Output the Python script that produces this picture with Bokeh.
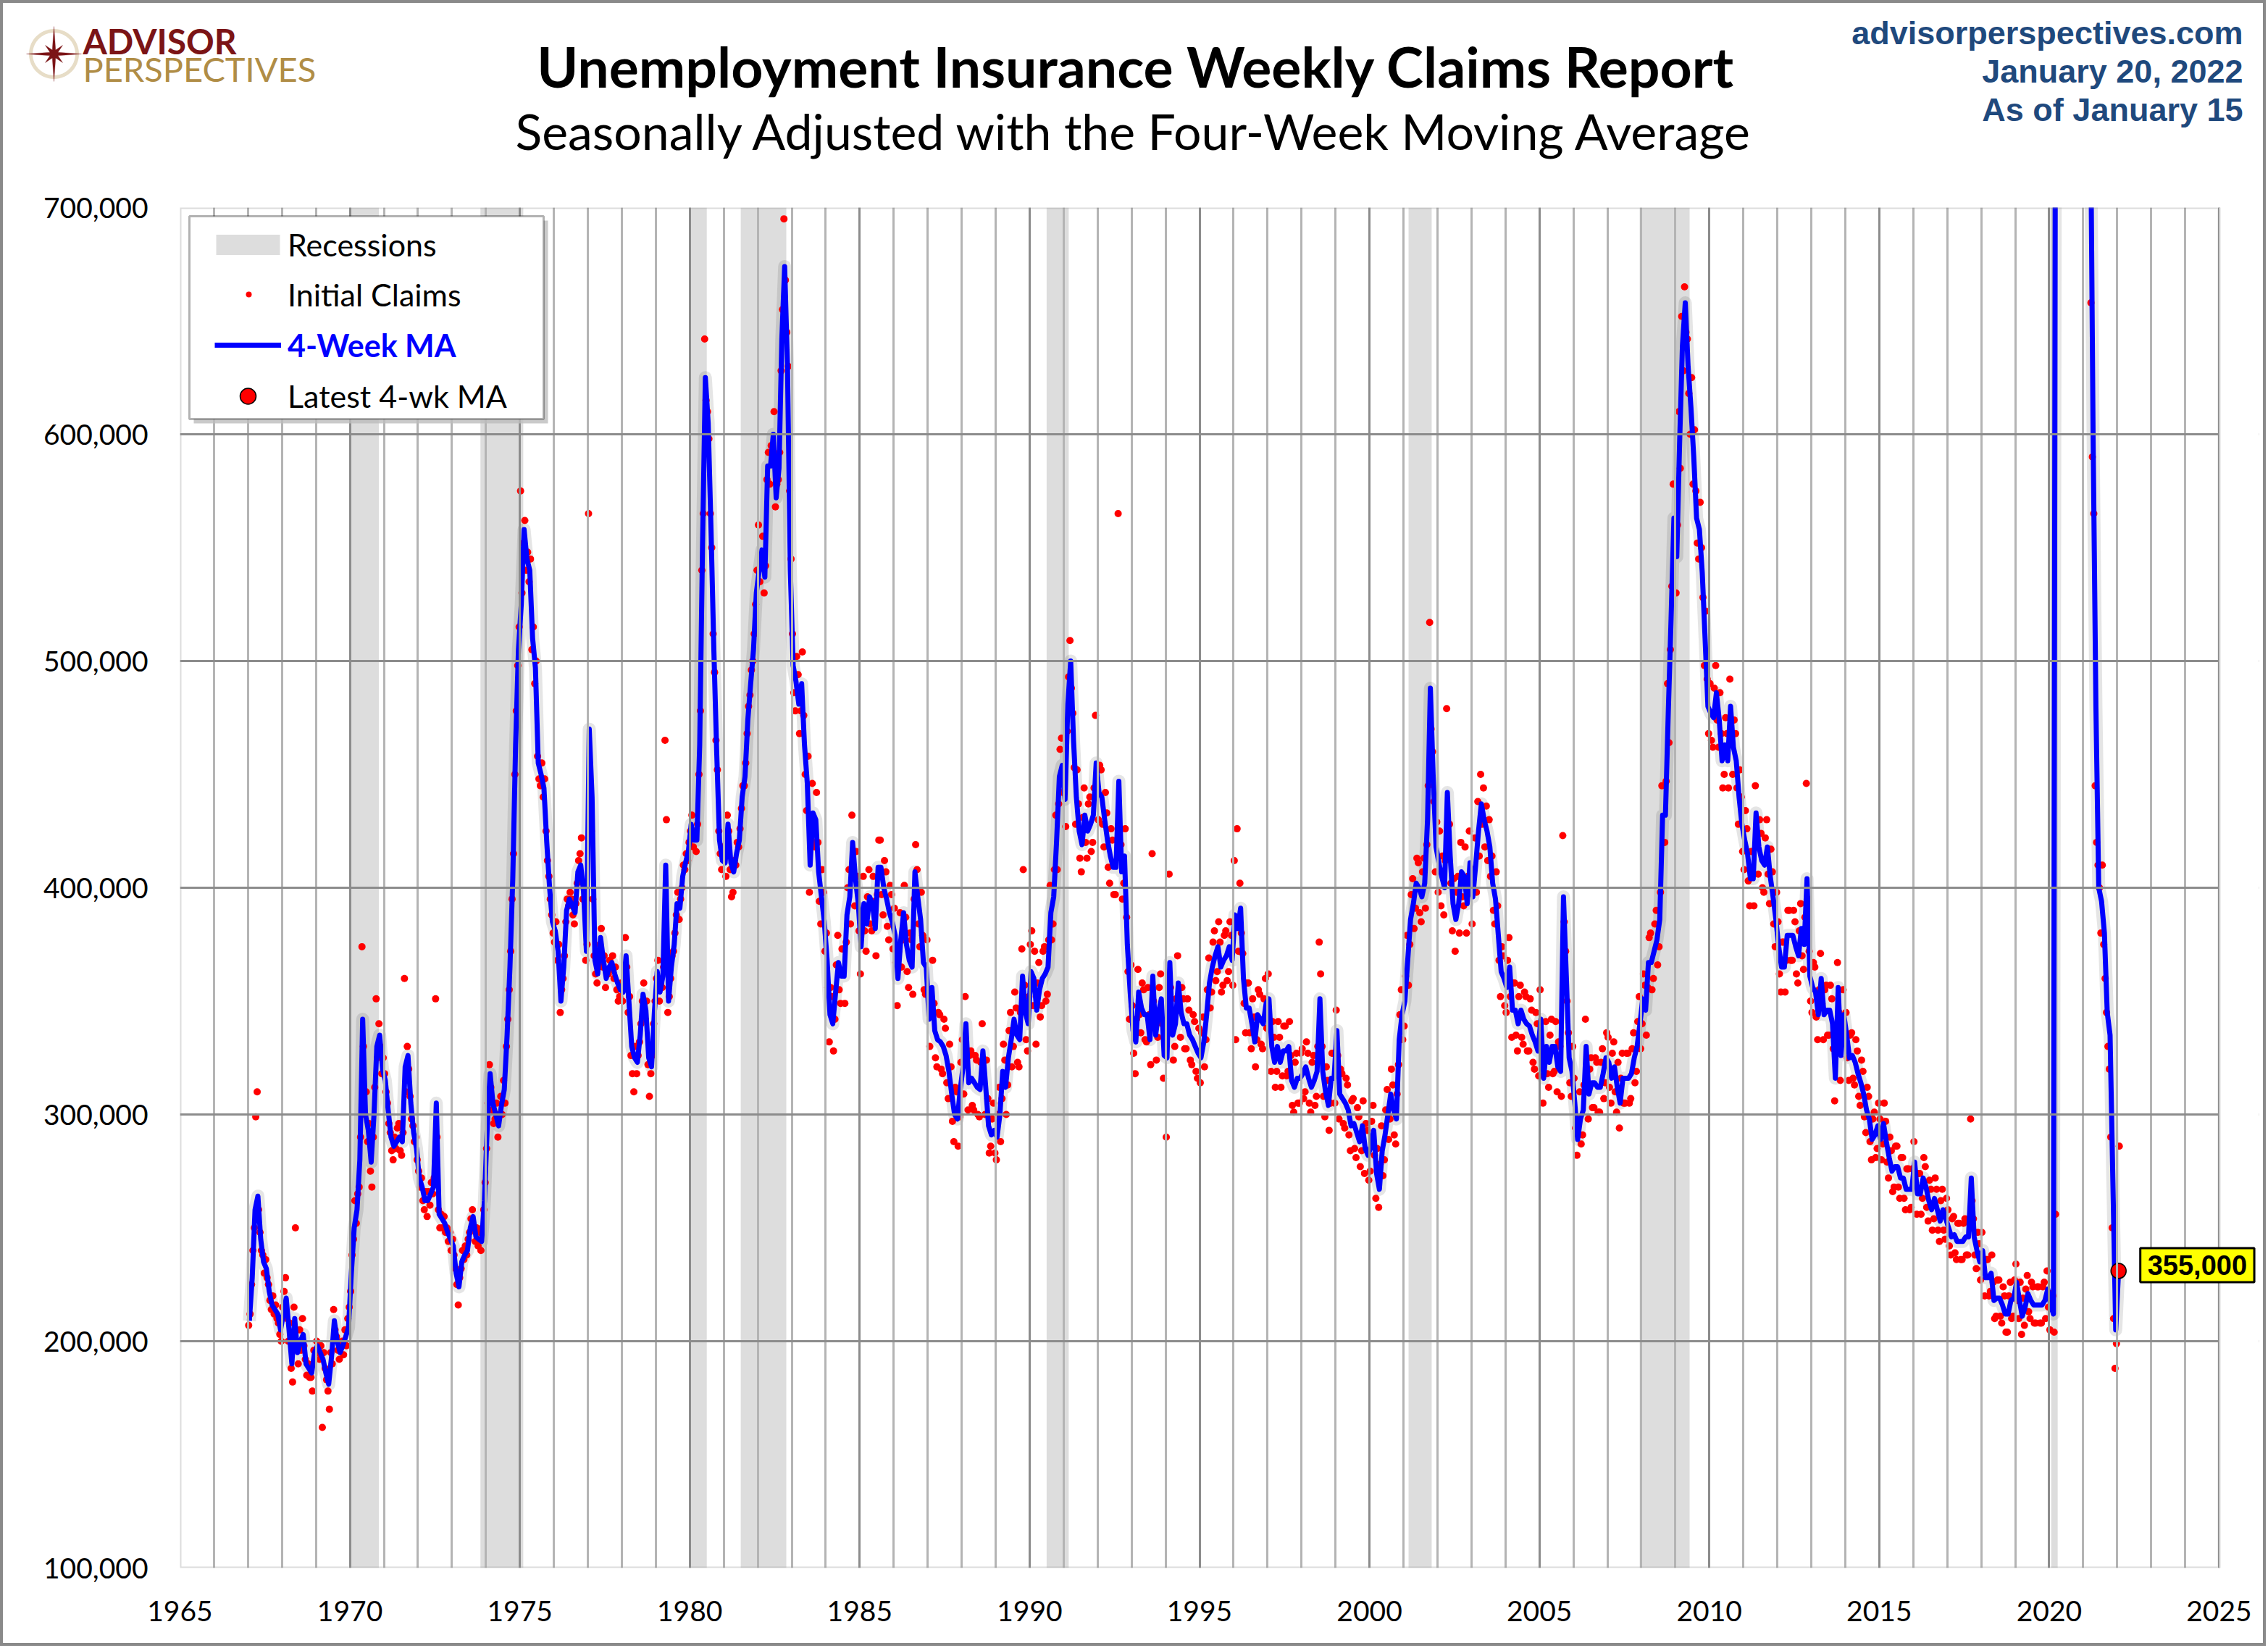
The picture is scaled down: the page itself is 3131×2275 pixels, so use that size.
import math
from bokeh.plotting import figure
from bokeh.layouts import column
from bokeh.models import (Range1d, FixedTicker, NumeralTickFormatter, Label, Legend,
                          LegendItem, BoxAnnotation, PolyAnnotation)
from bokeh.embed import file_html
from bokeh.resources import INLINE

# ---------------- DATA (thousands of claims) ----------------
# Four-week moving average, one value per month (mid-month), by decade
ma_1967_1979 = [
    209, 228, 258, 264, 245, 235, 232, 222, 216, 214, 212, 205,
    212, 219, 205, 190, 210, 195, 200, 203, 190, 188, 186, 195,
    198, 195, 192, 186, 181, 193, 209, 200, 195, 198, 202, 206,
    230, 250, 258, 280, 342, 300, 293, 279, 300, 330, 335, 320,
    315, 302, 290, 286, 288, 290, 288, 321, 326, 305, 292, 285,
    272, 268, 262, 262, 265, 268, 305, 256, 254, 252, 248, 245,
    242, 230, 224, 235, 238, 240, 250, 255, 246, 245, 244, 262,
    295, 318, 305, 300, 295, 304, 311, 335, 365, 404, 463, 505,
    525, 558, 545, 540, 510, 497, 455, 450, 444, 420, 400, 385,
    381, 372, 350, 365, 390, 395, 392, 389, 407, 410, 398, 372,
    470, 440, 368, 362, 378, 368, 360, 365, 367, 362, 358, 355,
    354, 370, 350, 330, 325, 323, 335, 353, 346, 325, 321, 345,
    363, 354, 361, 410, 350, 365, 375, 393, 391, 405, 411, 416]
ma_1980s = [
    428, 421, 421, 463, 551, 625, 605, 558, 505, 460, 421, 412,
    411, 428, 411, 407, 415, 421, 440, 449, 474, 490, 505, 530,
    540, 549, 537, 586, 586, 600, 572, 585, 642, 674, 630, 540,
    498, 491, 481, 490, 463, 446, 410, 433, 430, 407, 396, 385,
    368, 344, 340, 354, 367, 361, 361, 388, 396, 420, 404, 393,
    374, 393, 384, 396, 393, 382, 409, 409, 400, 395, 389, 385,
    379, 360, 377, 389, 375, 368, 365, 407, 396, 386, 367, 365,
    342, 356, 337, 333, 332, 330, 326, 319, 309, 300, 298, 311,
    321, 340, 314, 316, 314, 312, 311, 328, 312, 295, 291, 293,
    290, 300, 319, 312, 325, 333, 342, 335, 333, 361, 345, 340]
ma_1990s = [
    363, 360, 346, 355, 360, 362, 365, 389, 396, 420, 449, 454,
    439, 481, 500, 465, 440, 425, 419, 432, 425, 428, 432, 455,
    442, 440, 430, 421, 414, 409, 409, 447, 407, 414, 375, 354,
    337, 332, 354, 347, 344, 344, 333, 361, 335, 345, 351, 326,
    325, 367, 335, 340, 358, 345, 340, 340, 335, 333, 330, 327,
    325, 332, 344, 358, 365, 370, 374, 365, 368, 370, 374, 368,
    388, 382, 391, 360, 347, 347, 340, 332, 344, 342, 340, 349,
    351, 330, 323, 330, 323, 328, 328, 330, 315, 312, 316, 316,
    318, 321, 316, 312, 315, 319, 351, 319, 310, 304, 316, 316,
    337, 309, 307, 305, 302, 295, 296, 292, 288, 295, 285, 282]
ma_2000s = [
    286, 293, 274, 267, 284, 291, 300, 309, 302, 298, 333, 344,
    350, 368, 386, 393, 402, 400, 396, 402, 430, 488, 449, 418,
    411, 405, 400, 442, 414, 393, 386, 393, 407, 405, 393, 411,
    396, 410, 425, 437, 430, 425, 418, 402, 395, 379, 363, 360,
    356, 365, 346, 346, 340, 346, 342, 340, 339, 335, 332, 328,
    342, 316, 330, 323, 330, 330, 321, 319, 396, 361, 325, 319,
    305, 289, 298, 302, 330, 309, 314, 314, 312, 312, 318, 325,
    323, 316, 321, 312, 305, 316, 316, 316, 318, 325, 330, 340,
    351, 346, 367, 367, 372, 377, 386, 432, 432, 477, 519, 563,
    546, 596, 639, 658, 630, 612, 590, 563, 558, 539, 510, 480]
ma_2010s = [
    477, 475, 486, 474, 456, 463, 456, 480, 462, 456, 440, 428,
    421, 415, 404, 404, 433, 418, 412, 410, 418, 405, 396, 386,
    374, 365, 365, 379, 379, 379, 374, 370, 382, 375, 404, 361,
    356, 354, 344, 360, 344, 346, 346, 340, 316, 356, 326, 344,
    335, 325, 326, 323, 318, 314, 309, 302, 298, 289, 291, 295,
    289, 296, 288, 281, 275, 277, 277, 272, 272, 267, 267, 267,
    279, 265, 265, 272, 268, 262, 258, 263, 258, 253, 258, 254,
    250, 246, 247, 244, 244, 244, 246, 246, 272, 246, 240, 235,
    240, 228, 228, 230, 218, 219, 219, 216, 212, 212, 218, 219,
    226, 218, 211, 215, 221, 218, 216, 216, 216, 216, 218, 223]
ma_2020s = [
    216, 212, 1000, 5000, 3000, 1600, 1400, 1100, 880, 790, 740, 820,
    850, 800, 760, 600, 480, 400, 394, 380, 345, 335, 270, 205,
    231]

# Weekly initial claims, two readings per month, by decade
ic_1967_1979 = [
    207, 212, 225, 240, 250, 299, 310, 258, 248, 240, 238, 230, 236, 228, 225, 218, 214, 220, 212, 216, 210, 208, 203, 200,
    215, 222, 228, 210, 200, 208, 188, 182, 215, 250, 198, 190, 205, 196, 210, 198, 192, 185, 190, 184, 184, 178, 196, 192,
    200, 195, 192, 198, 162, 195, 188, 183, 178, 170, 195, 190, 214, 205, 202, 196, 192, 198, 200, 194, 205, 198, 210, 215,
    222, 238, 245, 262, 252, 265, 268, 290, 374, 330, 300, 310, 288, 296, 275, 268, 290, 312, 351, 325, 340, 330, 318, 325,
    318, 310, 305, 296, 292, 284, 280, 290, 285, 294, 296, 284, 282, 292, 360, 310, 330, 320, 308, 298, 295, 288, 290, 280,
    275, 268, 272, 262, 258, 266, 255, 266, 260, 270, 265, 272, 351, 290, 258, 250, 256, 250, 255, 248, 250, 244, 248, 240,
    245, 238, 232, 225, 216, 228, 232, 240, 236, 242, 238, 245, 248, 254, 258, 250, 244, 250, 242, 248, 240, 250, 258, 270,
    285, 305, 322, 312, 302, 296, 298, 305, 290, 300, 308, 300, 315, 305, 330, 342, 355, 372, 395, 415, 450, 478, 498, 515,
    575, 530, 552, 562, 540, 548, 535, 545, 505, 515, 490, 500, 458, 448, 445, 455, 440, 448, 425, 412, 405, 395, 388, 380,
    376, 385, 368, 375, 345, 355, 360, 370, 385, 395, 392, 398, 395, 388, 384, 393, 402, 412, 415, 422, 395, 402, 368, 375,
    565, 440, 425, 395, 370, 362, 358, 366, 375, 382, 365, 370, 356, 362, 362, 368, 364, 370, 360, 365, 355, 350, 352, 358,
    350, 358, 378, 365, 345, 352, 326, 318, 310, 330, 318, 326, 332, 340, 350, 358, 342, 350, 322, 308, 318, 326, 340, 350,
    360, 368, 350, 358, 356, 365, 465, 430, 345, 352, 360, 370, 372, 380, 388, 398, 386, 395, 400, 410, 408, 415, 412, 420]
ic_1980s = [
    425, 432, 418, 425, 416, 428, 450, 478, 540, 565, 642, 615, 610, 598, 565, 550, 512, 495, 465, 452, 425, 415, 408, 418,
    415, 405, 432, 425, 408, 396, 398, 412, 410, 420, 418, 426, 435, 445, 445, 455, 468, 480, 485, 496, 500, 512, 525, 540,
    560, 535, 545, 555, 530, 542, 580, 592, 578, 595, 592, 610, 568, 578, 580, 592, 628, 655, 695, 668, 645, 630, 575, 545,
    512, 486, 478, 502, 494, 468, 478, 504, 476, 450, 434, 458, 398, 422, 446, 420, 418, 442, 420, 394, 384, 408, 398, 372,
    380, 356, 332, 356, 352, 328, 342, 366, 379, 355, 349, 373, 373, 349, 376, 400, 408, 384, 432, 408, 392, 416, 405, 381,
    362, 386, 405, 381, 372, 396, 408, 384, 381, 405, 394, 370, 397, 421, 421, 397, 388, 412, 407, 383, 377, 401, 397, 373,
    391, 367, 348, 372, 389, 365, 377, 401, 387, 363, 356, 380, 377, 353, 395, 419, 408, 384, 374, 398, 379, 355, 353, 377,
    354, 330, 344, 368, 349, 325, 321, 345, 344, 320, 318, 342, 338, 314, 307, 331, 321, 297, 288, 312, 310, 286, 299, 323,
    333, 309, 352, 328, 302, 326, 328, 304, 302, 326, 324, 300, 299, 323, 340, 316, 300, 324, 307, 283, 286, 298, 305, 283,
    280, 300, 312, 288, 307, 331, 324, 300, 313, 337, 345, 321, 330, 354, 347, 323, 321, 345, 373, 408, 357, 333, 328, 352]
ic_1990s = [
    375, 381, 348, 372, 331, 358, 367, 343, 348, 372, 374, 350, 353, 377, 401, 377, 384, 408, 432, 408, 437, 461, 466, 442,
    451, 427, 469, 493, 509, 488, 477, 453, 428, 452, 437, 413, 407, 431, 444, 420, 413, 437, 440, 416, 420, 444, 476, 443,
    430, 454, 452, 428, 418, 442, 433, 409, 402, 426, 421, 397, 397, 421, 565, 425, 419, 395, 402, 426, 387, 363, 342, 366,
    348, 327, 318, 342, 364, 344, 336, 358, 355, 333, 332, 356, 344, 322, 415, 350, 346, 324, 334, 356, 362, 340, 316, 337,
    290, 336, 406, 356, 346, 324, 330, 351, 370, 346, 334, 356, 351, 329, 329, 351, 346, 324, 322, 344, 341, 319, 316, 338,
    314, 336, 343, 321, 333, 355, 369, 347, 354, 376, 381, 359, 363, 385, 376, 354, 357, 379, 381, 359, 363, 385, 379, 357,
    412, 333, 426, 372, 402, 380, 371, 349, 336, 358, 358, 336, 329, 351, 343, 321, 333, 355, 353, 331, 329, 351, 360, 338,
    362, 340, 319, 341, 334, 312, 319, 341, 334, 312, 317, 339, 339, 317, 319, 341, 326, 304, 301, 323, 327, 305, 305, 327,
    329, 307, 310, 332, 327, 305, 301, 323, 326, 304, 308, 330, 376, 362, 330, 308, 299, 321, 315, 293, 305, 327, 327, 305,
    346, 326, 298, 320, 318, 296, 294, 316, 313, 291, 284, 306, 307, 285, 281, 303, 299, 277, 284, 306, 274, 296, 293, 271]
ic_2000s = [
    275, 297, 304, 282, 263, 285, 259, 278, 295, 273, 280, 302, 311, 289, 298, 320, 313, 291, 287, 309, 322, 344, 355, 333,
    339, 361, 379, 357, 375, 397, 404, 382, 391, 413, 411, 389, 385, 407, 413, 391, 419, 445, 517, 470, 460, 438, 407, 429,
    398, 425, 392, 414, 388, 412, 479, 418, 428, 402, 381, 404, 372, 398, 405, 380, 420, 396, 392, 418, 380, 405, 425, 398,
    384, 408, 422, 398, 438, 414, 450, 428, 444, 418, 436, 412, 430, 405, 414, 390, 384, 407, 392, 368, 352, 374, 370, 348,
    345, 368, 378, 352, 334, 358, 358, 335, 328, 352, 357, 334, 331, 354, 352, 328, 328, 351, 346, 323, 320, 345, 340, 317,
    355, 330, 305, 328, 341, 318, 312, 335, 342, 318, 319, 341, 310, 332, 330, 308, 423, 385, 372, 350, 336, 314, 308, 330,
    316, 294, 282, 298, 310, 287, 291, 313, 342, 320, 298, 320, 325, 303, 303, 325, 323, 301, 301, 323, 329, 307, 314, 336,
    334, 312, 305, 327, 332, 310, 301, 323, 294, 316, 327, 305, 305, 327, 327, 305, 307, 329, 336, 314, 319, 341, 352, 329,
    340, 362, 357, 335, 356, 378, 380, 355, 360, 384, 390, 366, 374, 398, 445, 420, 420, 447, 490, 464, 505, 533, 578, 550,
    530, 560, 610, 585, 652, 628, 665, 645, 642, 618, 600, 625, 578, 602, 575, 552, 545, 570, 550, 528, 498, 522, 492, 468]
ic_2010s = [
    490, 465, 462, 488, 498, 474, 462, 486, 468, 444, 450, 475, 468, 444, 492, 468, 450, 474, 468, 444, 428, 452, 440, 416,
    408, 434, 426, 403, 392, 416, 416, 392, 445, 420, 406, 430, 424, 400, 398, 422, 430, 406, 393, 417, 407, 384, 374, 398,
    385, 362, 354, 376, 376, 354, 368, 390, 390, 368, 368, 390, 385, 362, 358, 381, 393, 370, 364, 387, 446, 395, 372, 350,
    345, 367, 365, 343, 333, 355, 371, 349, 333, 355, 357, 335, 335, 357, 351, 329, 306, 327, 367, 345, 315, 337, 355, 333,
    345, 325, 315, 335, 336, 316, 313, 333, 328, 308, 304, 324, 319, 299, 292, 312, 308, 288, 280, 298, 301, 281, 285, 305,
    298, 280, 287, 305, 297, 279, 272, 290, 284, 266, 268, 286, 286, 268, 263, 281, 281, 263, 258, 276, 276, 258, 259, 276,
    288, 270, 256, 274, 274, 256, 263, 281, 277, 259, 253, 271, 267, 249, 254, 272, 267, 249, 244, 262, 267, 249, 245, 263,
    258, 242, 238, 254, 255, 239, 236, 252, 252, 236, 236, 252, 254, 238, 238, 254, 298, 262, 254, 238, 232, 248, 243, 227,
    248, 232, 220, 236, 236, 220, 222, 238, 226, 210, 211, 227, 227, 211, 208, 224, 220, 204, 204, 220, 226, 210, 211, 227,
    234, 218, 210, 226, 203, 219, 207, 223, 229, 213, 210, 226, 224, 208, 208, 224, 224, 208, 208, 224, 226, 210, 231, 215]
ic_2020s = [
    205, 221, 220, 204, 256, 3300, 6000, 4400, 2700, 2100, 1500, 1400, 1300, 1400, 1100, 1000, 870, 850, 790, 750, 740, 780, 850, 800,
    900, 850, 800, 760, 720, 658, 590, 565, 445, 420, 410, 400, 380, 410, 375, 360, 345, 330, 320, 290, 250, 210, 188, 199,
    230, 286]

# Recessions (decimal years)
rec_start = [1970.00, 1973.84, 1980.00, 1981.50, 1990.50, 2001.15, 2007.95, 2020.06]
rec_end = [1970.85, 1975.10, 1980.50, 1982.84, 1991.15, 2001.83, 2009.42, 2020.25]

latest_label = "355,000"
x_ticks = list(range(1965, 2026, 5))
x_minor = list(range(1965, 2026))
y_ticks = list(range(100000, 700001, 100000))
X_LO, X_HI = 1965, 2025
Y_LO, Y_HI = 100000, 700000

# ---------------- build series ----------------
ma_blocks = [(1967, ma_1967_1979), (1980, ma_1980s), (1990, ma_1990s),
             (2000, ma_2000s), (2010, ma_2010s), (2020, ma_2020s)]
ic_blocks = [(1967, ic_1967_1979), (1980, ic_1980s), (1990, ic_1990s),
             (2000, ic_2000s), (2010, ic_2010s), (2020, ic_2020s)]
ma_x, ma_y, ic_x, ic_y = [], [], [], []
for y0, vals in ma_blocks:
    for i, v in enumerate(vals):
        ma_x.append(y0 + (i + 0.5) / 12)
        ma_y.append(v * 1000)
for y0, vals in ic_blocks:
    for i, v in enumerate(vals):
        ic_x.append(y0 + (i + 0.5) / 24)
        ic_y.append(v * 1000)

# ---------------- layout geometry (page pixels) ----------------
W, H = 3128, 2272
HH = 248                      # header strip height
H2 = H - HH                   # main chart height
RFL, RFR, RFT, RFB = 248, 3063, 286, 2164   # plot frame (page pixels)
PX_PER_YEAR = (RFR - RFL) / (X_HI - X_LO)
FT = RFT - HH
FB = RFB - HH
FR_EXT = W - 10               # frame extended right so the callout is not clipped
X_EXT = X_LO + (FR_EXT - RFL) / PX_PER_YEAR
BC = "#8a8a8a"                # outer border colour

# ---------------- header ----------------
header = figure(width=W, height=HH, y_range=Range1d(HH, 0),
                x_axis_type=None, y_axis_type=None, toolbar_location=None,
                output_backend="svg", min_border=0, title=None)
try:
    header.frame_align = False
    hx0, hx1 = 0, W
except Exception:
    hx0, hx1 = RFL, FR_EXT
header.x_range = Range1d(hx0, hx1)
header.outline_line_color = None
header.grid.visible = False
header.background_fill_alpha = 0
header.border_fill_alpha = 0
header.styles = {"box-shadow": f"inset 4px 0 0 0 {BC}, inset -4px 0 0 0 {BC}, "
                               f"inset 0 4px 0 0 {BC}"}

BASE_SHIFT = 0.33   # Label baseline correction, in em


def htext(text, rx, ry, size, color="black", font="Lato", style="normal", align="left"):
    header.add_layout(Label(x=rx, y=ry - BASE_SHIFT * size, text=text, text_font=font,
                            text_font_size=f"{size}px", text_font_style=style,
                            text_color=color, text_align=align,
                            text_baseline="alphabetic"))


htext("Unemployment Insurance Weekly Claims Report", 1568, 116, 77, style="bold",
      align="center")
htext("Seasonally Adjusted with the Four-Week Moving Average", 1567, 202, 68,
      align="center")
htext("advisorperspectives.com", 3096, 60, 45, color="#1F497D",
      font="Liberation Sans", style="bold", align="right")
htext("January 20, 2022", 3096, 113, 45, color="#1F497D",
      font="Liberation Sans", style="bold", align="right")
htext("As of January 15", 3096, 166, 45, color="#1F497D",
      font="Liberation Sans", style="bold", align="right")
htext("ADVISOR", 114, 72, 48, color="#7B1416", style="bold")
htext("PERSPECTIVES", 114, 110, 47, color="#B08D46")

# logo mark
cx, cy = 74, 74
ring_x = [cx + 32 * math.cos(2 * math.pi * k / 60) for k in range(60)]
ring_y = [cy + 32 * math.sin(2 * math.pi * k / 60) for k in range(60)]
header.add_layout(PolyAnnotation(xs=ring_x, ys=ring_y, fill_alpha=0,
                                 line_color="#B08D46", line_width=5))
star_x, star_y = [], []
for k in range(16):
    r = 38 if k % 4 == 0 else (17 if k % 4 == 2 else 6)
    a = math.pi / 2 + k * math.pi / 8
    star_x.append(cx + r * math.cos(a))
    star_y.append(cy + r * math.sin(a))
header.add_layout(PolyAnnotation(xs=star_x, ys=star_y, fill_color="#7B1416",
                                 fill_alpha=1, line_color="#7B1416", line_width=1))

# ---------------- main chart ----------------
p = figure(width=W, height=H2, title=None, output_backend="svg", toolbar_location=None,
           x_range=Range1d(X_LO, X_EXT), y_range=Range1d(Y_LO, Y_HI),
           min_border_left=RFL, min_border_top=FT, min_border_right=W - FR_EXT,
           min_border_bottom=H2 - FB)
p.styles = {"box-shadow": f"inset 4px 0 0 0 {BC}, inset -4px 0 0 0 {BC}, "
                          f"inset 0 -4px 0 0 {BC}"}
p.background_fill_color = "white"
p.border_fill_alpha = 0
p.outline_line_color = None

p.xaxis.ticker = FixedTicker(ticks=x_ticks, minor_ticks=x_minor)
p.yaxis.ticker = FixedTicker(ticks=y_ticks)
p.yaxis.formatter = NumeralTickFormatter(format="0,0")
for ax in (p.xaxis[0], p.yaxis[0]):
    ax.axis_line_color = None
    ax.major_tick_line_color = None
    ax.minor_tick_line_color = None
    ax.major_tick_out = 0
    ax.major_label_text_font = "Lato"
    ax.major_label_text_font_size = "39px"
    ax.major_label_text_color = "black"
p.xaxis.major_label_standoff = 41
p.yaxis.major_label_standoff = 44

p.xgrid.grid_line_color = "#8c8c8c"
p.xgrid.grid_line_width = 3
p.xgrid.minor_grid_line_color = "#b4b4b4"
p.xgrid.minor_grid_line_width = 3
p.ygrid.grid_line_color = "#8c8c8c"
p.ygrid.grid_line_width = 3
p.xgrid.level = "glyph"
p.ygrid.level = "glyph"

rq = p.quad(left=rec_start, right=rec_end, bottom=Y_LO, top=Y_HI,
            fill_color="#dddddd", line_color=None, level="underlay")
p.line(ma_x, ma_y, line_color="black", line_alpha=0.10, line_width=18,
       line_join="round")
sc = p.scatter(ic_x, ic_y, size=10, marker="circle", fill_color="#ff0000",
               line_color=None)
ln = p.line(ma_x, ma_y, line_color="#0000ff", line_width=7, line_join="round")
lt = p.scatter([ma_x[-1]], [ma_y[-1]], size=21, marker="circle",
               fill_color="#ff0000", line_color="black", line_width=1.5)

# blank out the extension strip to the right of 2025 and draw the plot border
p.add_layout(BoxAnnotation(left=X_HI, fill_color="white", fill_alpha=1, line_color=None))
p.add_layout(BoxAnnotation(left=X_LO, right=X_HI, bottom=Y_LO, top=Y_HI, fill_alpha=0,
                           line_color="#8a8a8a", line_width=4))


def sx(rx):
    return rx - RFL


def sy(ry):
    return RFB - ry


# legend frame with shadow
p.add_layout(BoxAnnotation(left=sx(267), right=sx(756), top=sy(304), bottom=sy(584),
                           left_units="screen", right_units="screen",
                           top_units="screen", bottom_units="screen",
                           fill_color="#bdbdbd", fill_alpha=0.8, line_color=None))
p.add_layout(BoxAnnotation(left=sx(261), right=sx(750), top=sy(298), bottom=sy(578),
                           left_units="screen", right_units="screen",
                           top_units="screen", bottom_units="screen",
                           fill_color="white", fill_alpha=1, line_color="black",
                           line_width=3))


def add_legend(label, r, x0, gw, gh, center, standoff, color="black", style="normal"):
    lh = 56
    h = max(gh, lh)
    bottom = center + h / 2 + 3
    p.add_layout(Legend(items=[LegendItem(label=label, renderers=[r])],
                        location=(sx(x0), sy(bottom)), padding=0, spacing=0, margin=0,
                        glyph_width=gw, glyph_height=gh, label_height=lh,
                        label_standoff=standoff, border_line_color=None,
                        background_fill_alpha=0, label_text_font="Lato",
                        label_text_font_size="43px", label_text_color=color,
                        label_text_font_style=style))


add_legend("Recessions", rq, 287, 110, 35, 334, 0)
add_legend("Initial Claims", sc, 298, 90, 20, 403, 9)
add_legend("4-Week MA", ln, 296, 92, 28, 473, 9, color="#0000ff", style="bold")
add_legend("Latest 4-wk MA", lt, 297, 90, 55, 543, 10)

# latest value callout
p.add_layout(Label(x=ma_x[-1], y=ma_y[-1], x_offset=30, y_offset=8, text=latest_label,
                   text_font="Liberation Sans", text_font_style="bold",
                   text_font_size="38px", text_color="black", text_baseline="middle",
                   background_fill_color="#ffff00", border_line_color="black",
                   border_line_width=3, padding=10))

page = column(header, p, spacing=0)
open("out.html", "w").write(file_html(page, INLINE))
